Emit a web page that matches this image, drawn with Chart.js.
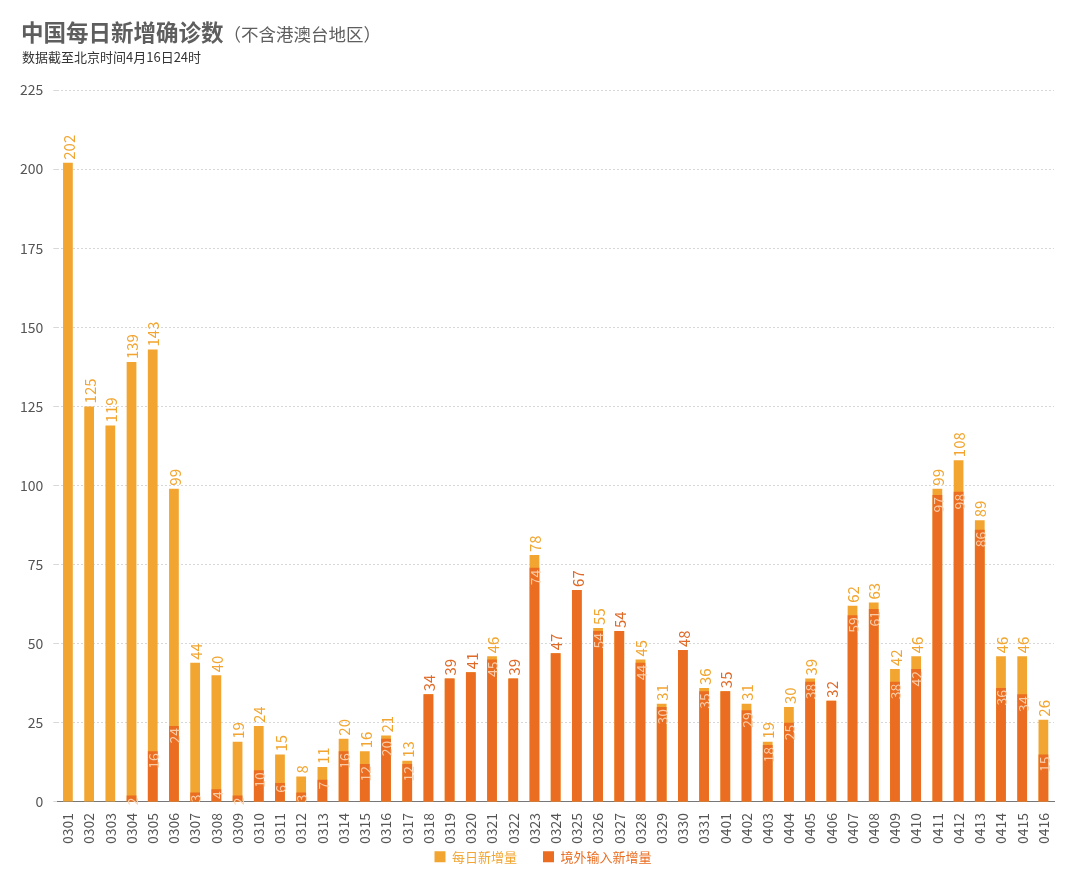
<!DOCTYPE html>
<html>
<head>
<meta charset="utf-8">
<script src="https://cdn.jsdelivr.net/npm/chart.js@4.4.1/dist/chart.umd.min.js"></script>
<style>
  html, body { margin: 0; padding: 0; background: #fff; width: 1080px; height: 887px; overflow: hidden; }
  #title { position: absolute; left: 21px; top: 15px; font-family: "Noto Sans CJK SC", sans-serif; color: #5e5e5e; white-space: nowrap; }
  #title .main { font-size: 22.5px; font-weight: 700; }
  #title .sub { font-size: 17.5px; font-weight: 400; }
  #subtitle { position: absolute; left: 22px; top: 47px; font-family: "Noto Sans CJK SC", sans-serif; font-size: 13px; color: #333; white-space: nowrap; }
  #wrap { position: absolute; left: 0; top: 0; width: 1080px; height: 887px; }
</style>
</head>
<body>
<div id="wrap"><canvas id="c" width="1080" height="887"></canvas></div>
<div id="title"><span class="main">中国每日新增确诊数</span><span class="sub">（不含港澳台地区）</span></div>
<div id="subtitle">数据截至北京时间4月16日24时</div>
<script>
const categories = ["0301","0302","0303","0304","0305","0306","0307","0308","0309","0310","0311","0312","0313","0314","0315","0316","0317","0318","0319","0320","0321","0322","0323","0324","0325","0326","0327","0328","0329","0330","0331","0401","0402","0403","0404","0405","0406","0407","0408","0409","0410","0411","0412","0413","0414","0415","0416"];
const dailyNew = [202,125,119,139,143,99,44,40,19,24,15,8,11,20,16,21,13,34,39,41,46,39,78,47,67,55,54,45,31,48,36,35,31,19,30,39,32,62,63,42,46,99,108,89,46,46,26];
const importedNew = [0,0,0,2,16,24,3,4,2,10,6,3,7,16,12,20,12,34,39,41,45,39,74,47,67,54,54,44,30,48,35,35,29,18,25,38,32,59,61,38,42,97,98,86,36,34,15];
const seriesNames = ["每日新增量", "境外输入新增量"];
const yTicks = [0,25,50,75,100,125,150,175,200,225];

const LIGHT = "#f2a631";
const DARK = "#ea6d21";
const FONT = "'Noto Sans CJK SC', 'Noto Sans', sans-serif";
const LEGEND_TEXT_Y = 858;
const LEGEND_SHIFT_X = 11;

const labelPlugin = {
  id: "valueLabels",
  afterLayout(chart) {
    const lg = chart.legend;
    if (!lg) return;
    const pad = lg.options.labels.padding;
    const fs = lg.options.labels.font.size;
    const centre = lg.top + pad + fs * 1.2 / 2;
    const d = LEGEND_TEXT_Y - centre;
    lg.top += d; lg.bottom += d;
    lg.left += LEGEND_SHIFT_X; lg.right += LEGEND_SHIFT_X;
  },
  afterDatasetsDraw(chart) {
    const ctx = chart.ctx;
    const metaT = chart.getDatasetMeta(0);
    const metaI = chart.getDatasetMeta(1);
    ctx.save();
    ctx.textBaseline = "middle";
    for (let i = 0; i < categories.length; i++) {
      const bt = metaT.data[i];
      const bi = metaI.data[i];
      const equal = importedNew[i] === dailyNew[i];
      ctx.save();
      ctx.translate(bt.x, bt.y - 3);
      ctx.rotate(-Math.PI / 2);
      ctx.textAlign = "left";
      ctx.font = "15px " + FONT;
      ctx.fillStyle = equal ? "#e06a28" : LIGHT;
      ctx.fillText(String(dailyNew[i]), 0, 1);
      ctx.restore();
      if (importedNew[i] > 0 && importedNew[i] < dailyNew[i]) {
        ctx.save();
        ctx.translate(bi.x, bi.y + 2);
        ctx.rotate(-Math.PI / 2);
        ctx.textAlign = "right";
        ctx.font = "14px " + FONT;
        ctx.fillStyle = "rgba(250,212,178,0.92)";
        ctx.fillText(String(importedNew[i]), 0, 1);
        ctx.restore();
      }
    }
    ctx.restore();
  }
};

new Chart(document.getElementById("c"), {
  type: "bar",
  data: {
    labels: categories,
    datasets: [
      { label: seriesNames[0], data: dailyNew, backgroundColor: LIGHT, grouped: false, order: 1, barPercentage: 0.46, categoryPercentage: 1.0 },
      { label: seriesNames[1], data: importedNew, backgroundColor: DARK, grouped: false, order: 0, barPercentage: 0.46, categoryPercentage: 1.0 }
    ]
  },
  plugins: [labelPlugin],
  options: {
    responsive: false,
    animation: false,
    devicePixelRatio: 1,
    layout: { padding: { top: 90, left: 10, right: 26, bottom: -9 } },
    plugins: {
      tooltip: { enabled: false },
      legend: {
        position: "bottom",
        labels: {
          font: { family: FONT, size: 13 },
          boxWidth: 11,
          boxHeight: 11,
          padding: 26,
          sort: (a, b) => a.datasetIndex - b.datasetIndex,
          generateLabels(chart) {
            const items = Chart.defaults.plugins.legend.labels.generateLabels(chart);
            items.forEach(it => { it.fontColor = it.datasetIndex === 0 ? LIGHT : DARK; it.lineWidth = 0; it.strokeStyle = "rgba(0,0,0,0)"; });
            return items;
          }
        }
      }
    },
    scales: {
      x: {
        grid: { display: false },
        border: { display: true, color: "#777", width: 1 },
        ticks: { autoSkip: false, maxRotation: 90, minRotation: 90, color: "#555", font: { family: FONT, size: 14 }, padding: 3 }
      },
      y: {
        min: 0, max: 225,
        afterBuildTicks(scale) { scale.ticks = yTicks.map(v => ({ value: v })); },
        grid: { color: "#d8d8d8", lineWidth: 1, drawTicks: true, tickLength: 4 },
        border: { display: false, dash: [2, 2] },
        ticks: { color: "#555", font: { family: FONT, size: 14 }, padding: 10 }
      }
    }
  }
});
</script>
</body>
</html>
